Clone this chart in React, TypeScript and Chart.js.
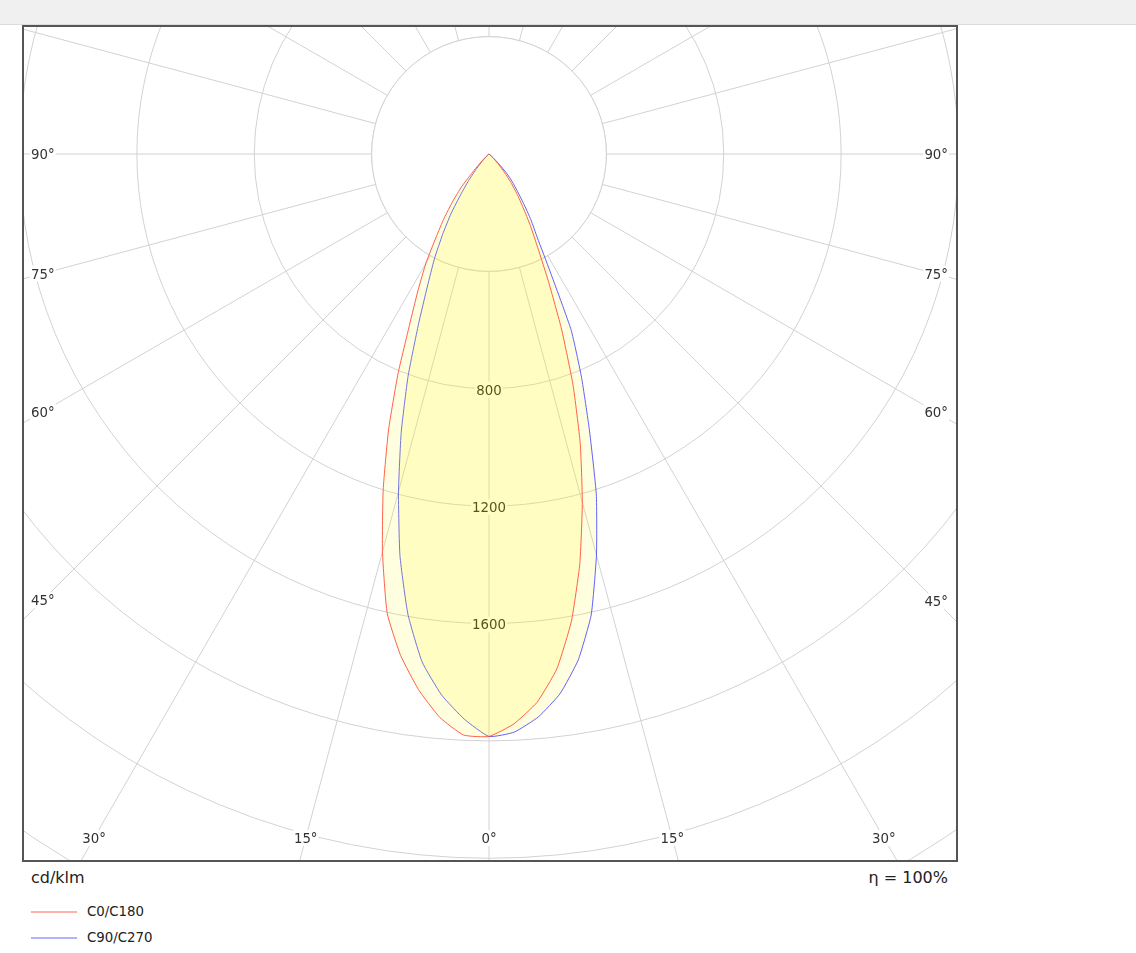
import React, { useEffect, useRef } from "react";
import { Chart, registerables } from "chart.js";

Chart.register(...registerables);

// ---- data (cd/klm), gamma = angle from nadir, 2.5° steps, 0..90°
const GAMMA = [
  0, 2.5, 5, 7.5, 10, 12.5, 15, 17.5, 20, 22.5, 25, 27.5, 30, 32.5, 35, 37.5, 40, 42.5, 45,
  47.5, 50, 52.5, 55, 57.5, 60, 62.5, 65, 67.5, 70, 72.5, 75, 77.5, 80, 82.5, 85, 87.5, 90,
];
const C0 = [
  1985, 1944, 1876, 1770, 1617, 1430, 1229, 1034, 837, 646, 480, 360, 282, 216, 167, 123, 82, 50, 25,
  10, 3, 0, 0, 0, 0, 0, 0, 0, 0, 0, 0, 0, 0, 0, 0, 0, 0,
];
const C180 = [
  1985, 1982, 1927, 1841, 1735, 1603, 1403, 1199, 1001, 810, 639, 524, 430, 335, 266, 202, 144, 75, 35,
  15, 5, 0, 0, 0, 0, 0, 0, 0, 0, 0, 0, 0, 0, 0, 0, 0, 0,
];
const C90 = [
  1985, 1972, 1926, 1855, 1751, 1609, 1415, 1216, 1000, 824, 663, 450, 330, 266, 205, 157, 123, 89, 45,
  18, 6, 0, 0, 0, 0, 0, 0, 0, 0, 0, 0, 0, 0, 0, 0, 0, 0,
];
const C270 = [
  1985, 1928, 1851, 1746, 1592, 1402, 1192, 995, 807, 628, 496, 403, 316, 241, 166, 114, 70, 42, 20,
  8, 2, 0, 0, 0, 0, 0, 0, 0, 0, 0, 0, 0, 0, 0, 0, 0, 0,
];
const SERIES_NAMES = ["C0/C180", "C90/C270"];
const RING_LABELS = [800, 1200, 1600];
const SIDE_ANGLES = [45, 60, 75, 90];
const BOTTOM_ANGLES = [0, 15, 30];
const UNIT_TEXT = "cd/klm";
const EFF_TEXT = "η = 100%";

// ---- scale / layout settings
const STEP = 2.5;
const N = 360 / STEP;
const R_MAX = 3200;
const R_STEP = 400;
const INNER_RING = 400;

const SIZE = 1878;
const CENTER = { x: 489, y: 154 };
const FRAME = { left: 22, top: 25, width: 936, height: 837, border: 2 };
const CANVAS_PAGE_LEFT = CENTER.x - SIZE / 2;
const CANVAS_PAGE_TOP = CENTER.y - SIZE / 2;
const INNER = {
  left: FRAME.left + FRAME.border - CANVAS_PAGE_LEFT,
  right: FRAME.left + FRAME.width - FRAME.border - CANVAS_PAGE_LEFT,
  bottom: FRAME.top + FRAME.height - FRAME.border - CANVAS_PAGE_TOP,
};

const RED = "rgba(255,80,55,0.9)";
const BLUE = "rgba(80,80,255,0.9)";
const FILL = "rgba(255,247,0,0.13)";
const GRID = "#d2d2d2";
const FONT = '"DejaVu Sans", Verdana, sans-serif';
const SMALL_FONT = `13.33px ${FONT}`;

function loopValues(right: number[], left: number[]): number[] {
  const out: number[] = [];
  for (let i = 0; i < N; i++) {
    const theta = i * STEP;
    const onLeft = theta <= 180;
    const g = onLeft ? theta : 360 - theta;
    const k = GAMMA.indexOf(g);
    out.push(k >= 0 ? (onLeft ? left[k] : right[k]) : 0);
  }
  return out;
}

function boxedText(ctx: CanvasRenderingContext2D, text: string, x: number, y: number, color: string) {
  ctx.font = SMALL_FONT;
  const w = ctx.measureText(text).width;
  ctx.fillStyle = "#ffffff";
  ctx.fillRect(x - w / 2 - 1, y - 8, w + 2, 16);
  ctx.fillStyle = color;
  ctx.textAlign = "center";
  ctx.textBaseline = "middle";
  ctx.fillText(text, x, y + 1.5);
}

const polarDecor = {
  id: "polarDecor",
  beforeDatasetsDraw(chart: any) {
    const scale = chart.scales.r;
    const ctx: CanvasRenderingContext2D = chart.ctx;
    const xC = scale.xCenter;
    const yC = scale.yCenter;
    ctx.save();
    // clear the inner disk (angle lines start at the first ring)
    const r0 = scale.getDistanceFromCenterForValue(INNER_RING);
    ctx.beginPath();
    ctx.arc(xC, yC, r0, 0, Math.PI * 2);
    ctx.fillStyle = "#ffffff";
    ctx.fill();
    ctx.strokeStyle = GRID;
    ctx.lineWidth = 1;
    ctx.stroke();

    // ring value labels along the 0° line
    RING_LABELS.forEach((v) => {
      const p = scale.getPointPosition(0, scale.getDistanceFromCenterForValue(v));
      boxedText(ctx, String(v), p.x, p.y + 1, "#222");
    });

    ctx.font = SMALL_FONT;
    const dirOf = (idx: number) => {
      const p = scale.getPointPosition(idx, 100);
      return { dx: p.x - xC, dy: p.y - yC };
    };
    // side labels
    SIDE_ANGLES.forEach((g) => {
      const text = `${g}°`;
      const w = ctx.measureText(text).width;
      const left = dirOf(g / STEP);
      const lx = INNER.left + 7 + w / 2;
      const ly = yC + ((lx - xC) / left.dx) * left.dy;
      boxedText(ctx, text, lx, ly, "#333");
      const right = dirOf((360 - g) / STEP);
      const rx = INNER.right - 8 - w / 2;
      const ry = yC + ((rx - xC) / right.dx) * right.dy;
      boxedText(ctx, text, rx, ry, "#333");
    });
    // bottom labels
    BOTTOM_ANGLES.forEach((g) => {
      const text = `${g}°`;
      const by = INNER.bottom - 22;
      const idxs = g === 0 ? [0] : [g / STEP, (360 - g) / STEP];
      idxs.forEach((idx) => {
        const d = dirOf(idx);
        const bx = xC + ((by - yC) / d.dy) * d.dx;
        boxedText(ctx, text, bx, by, "#333");
      });
    });
    ctx.restore();
  },
};

function PolarChart() {
  const ref = useRef<HTMLCanvasElement | null>(null);
  useEffect(() => {
    if (!ref.current) return;
    const labels = Array.from({ length: N }, (_, i) => `${i * STEP}°`);
    const chart = new Chart(ref.current, {
      type: "radar",
      data: {
        labels,
        datasets: [
          {
            label: SERIES_NAMES[0],
            data: loopValues(C0, C180),
            borderColor: RED,
            backgroundColor: FILL,
            borderWidth: 1,
            pointRadius: 0,
            fill: true,
          },
          {
            label: SERIES_NAMES[1],
            data: loopValues(C90, C270),
            borderColor: BLUE,
            backgroundColor: FILL,
            borderWidth: 1,
            pointRadius: 0,
            fill: true,
          },
        ],
      },
      options: {
        responsive: false,
        animation: false,
        devicePixelRatio: window.devicePixelRatio || 1,
        layout: { padding: 0 },
        plugins: { legend: { display: false }, tooltip: { enabled: false } },
        elements: { line: { tension: 0.15 }, point: { radius: 0, hitRadius: 0 } },
        scales: {
          r: {
            min: 0,
            max: R_MAX,
            startAngle: 180,
            beginAtZero: true,
            ticks: { display: false, stepSize: R_STEP },
            pointLabels: { display: false },
            grid: { circular: true, color: GRID, lineWidth: 1 },
            angleLines: {
              display: true,
              color: GRID,
              lineWidth: (c: any) => (c.index % 6 === 0 ? 1 : 0),
            },
          },
        },
      } as any,
      plugins: [polarDecor],
    });
    return () => chart.destroy();
  }, []);

  return (
    <canvas
      ref={ref}
      width={SIZE}
      height={SIZE}
      style={{
        position: "absolute",
        left: CANVAS_PAGE_LEFT - (FRAME.left + FRAME.border),
        top: CANVAS_PAGE_TOP - (FRAME.top + FRAME.border),
        width: SIZE,
        height: SIZE,
      }}
    />
  );
}

export default function App() {
  const text: React.CSSProperties = { position: "absolute", fontFamily: FONT, color: "#222", whiteSpace: "nowrap" };
  return (
    <div style={{ position: "absolute", left: 0, top: 0, width: 1136, height: 953, background: "#fff", overflow: "hidden" }}>
      <div style={{ position: "absolute", left: 0, top: 0, width: 1136, height: 24, background: "#f0f0f0", borderBottom: "1px solid #dcdcdc" }} />
      <div
        style={{
          position: "absolute",
          left: FRAME.left,
          top: FRAME.top,
          width: FRAME.width,
          height: FRAME.height,
          border: `${FRAME.border}px solid #555`,
          boxSizing: "border-box",
          overflow: "hidden",
          background: "#fff",
        }}
      >
        <PolarChart />
      </div>
      <div style={{ ...text, left: 31, top: 869, fontSize: 16, lineHeight: "18px" }}>{UNIT_TEXT}</div>
      <div style={{ ...text, right: 1136 - 948, top: 869, fontSize: 16, lineHeight: "18px", textAlign: "right" }}>{EFF_TEXT}</div>
      <div style={{ position: "absolute", left: 31, top: 911, width: 46, height: 2, background: "rgba(255,85,60,0.45)" }} />
      <div style={{ ...text, left: 87, top: 904, fontSize: 13.33, lineHeight: "16px" }}>{SERIES_NAMES[0]}</div>
      <div style={{ position: "absolute", left: 31, top: 937, width: 46, height: 2, background: "rgba(85,85,255,0.45)" }} />
      <div style={{ ...text, left: 87, top: 930, fontSize: 13.33, lineHeight: "16px" }}>{SERIES_NAMES[1]}</div>
    </div>
  );
}
